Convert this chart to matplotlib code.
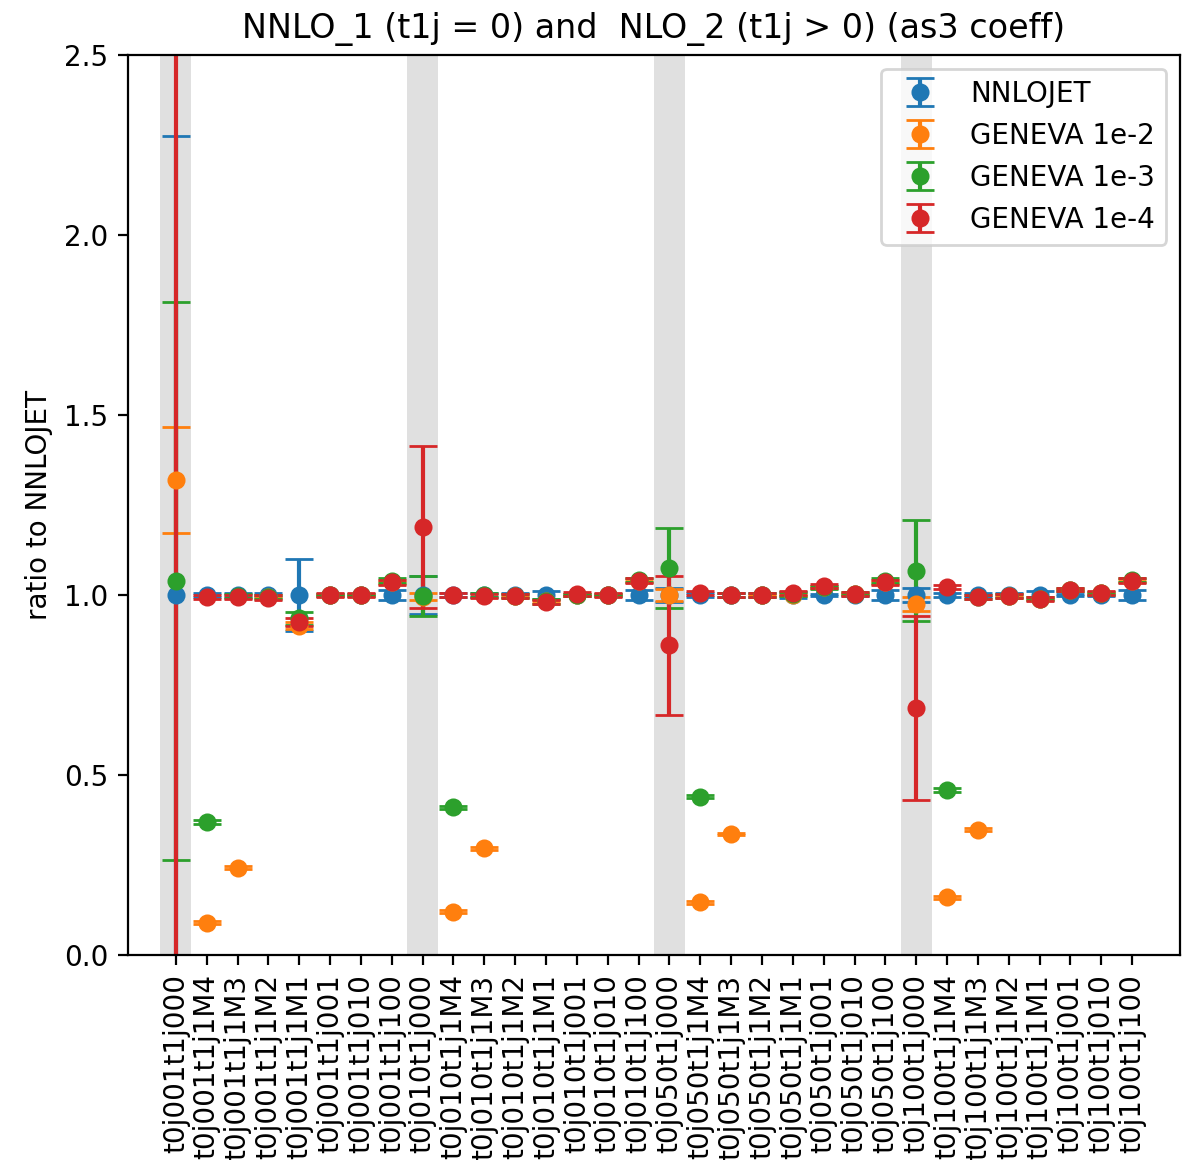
import matplotlib
matplotlib.use("Agg")
import matplotlib.pyplot as plt
import numpy as np

t0j_bins = ["001", "010", "050", "100"]
t1j_bins = ["000", "1M4", "1M3", "1M2", "1M1", "001", "010", "100"]
labels = [f"t0j{a}t1j{b}" for a in t0j_bins for b in t1j_bins]

nnlojet_val = [1.0, 1.0, 1.0, 1.0, 1.0, 1.0, 1.0, 1.0,
               1.0, 1.0, 1.0, 1.0, 1.0, 1.0, 1.0, 1.0,
               1.0, 1.0, 1.0, 1.0, 1.0, 1.0, 1.0, 1.0,
               1.0, 1.0, 1.0, 1.0, 1.0, 1.0, 1.0, 1.0]
nnlojet_err = [1.275, 0.005, 0.005, 0.005, 0.10, 0.004, 0.004, 0.015,
               0.052, 0.005, 0.005, 0.005, 0.010, 0.004, 0.004, 0.015,
               0.020, 0.005, 0.005, 0.005, 0.008, 0.004, 0.004, 0.015,
               0.020, 0.005, 0.005, 0.005, 0.010, 0.004, 0.004, 0.015]

geneva2_val = [1.32, 0.09, 0.243, 0.995, 0.915, 1.0, 1.0, 1.035,
               0.995, 0.12, 0.296, 0.998, 0.982, 1.0, 1.0, 1.04,
               1.0, 0.146, 0.336, 1.0, 1.0, 1.022, 1.003, 1.035,
               0.975, 0.16, 0.348, 0.998, 0.99, 1.015, 1.005, 1.04]
geneva2_err = [0.148, 0.004, 0.004, 0.004, 0.010, 0.003, 0.003, 0.005,
               0.010, 0.004, 0.004, 0.004, 0.005, 0.003, 0.003, 0.005,
               0.016, 0.004, 0.004, 0.004, 0.004, 0.003, 0.003, 0.005,
               0.020, 0.004, 0.004, 0.004, 0.004, 0.003, 0.003, 0.005]

geneva3_val = [1.04, 0.37, 0.998, 0.995, 0.935, 1.0, 1.0, 1.04,
               0.997, 0.41, 1.0, 0.998, 0.982, 1.0, 1.0, 1.042,
               1.075, 0.44, 1.0, 1.0, 1.003, 1.022, 1.003, 1.04,
               1.067, 0.458, 0.995, 0.998, 0.99, 1.015, 1.005, 1.042]
geneva3_err = [0.775, 0.005, 0.005, 0.005, 0.018, 0.004, 0.004, 0.006,
               0.056, 0.005, 0.005, 0.005, 0.006, 0.004, 0.004, 0.006,
               0.111, 0.005, 0.005, 0.005, 0.005, 0.004, 0.004, 0.006,
               0.140, 0.005, 0.005, 0.005, 0.005, 0.004, 0.004, 0.006]

geneva4_val = [2.8, 0.995, 0.995, 0.993, 0.925, 1.0, 1.0, 1.035,
               1.19, 1.0, 0.998, 0.998, 0.98, 1.002, 1.0, 1.04,
               0.86, 1.005, 1.0, 1.0, 1.005, 1.025, 1.003, 1.035,
               0.686, 1.022, 0.995, 0.998, 0.988, 1.015, 1.005, 1.04]
geneva4_err = [3.2, 0.006, 0.006, 0.006, 0.010, 0.005, 0.005, 0.008,
               0.225, 0.006, 0.006, 0.006, 0.006, 0.005, 0.005, 0.008,
               0.193, 0.006, 0.006, 0.006, 0.006, 0.005, 0.005, 0.008,
               0.256, 0.006, 0.006, 0.006, 0.006, 0.005, 0.005, 0.008]

series = [
    ("NNLOJET", nnlojet_val, nnlojet_err, "#1f77b4"),
    ("GENEVA 1e-2", geneva2_val, geneva2_err, "#ff7f0e"),
    ("GENEVA 1e-3", geneva3_val, geneva3_err, "#2ca02c"),
    ("GENEVA 1e-4", geneva4_val, geneva4_err, "#d62728"),
]

DPI = 200
fig = plt.figure(figsize=(1187 / DPI, 1160 / DPI), dpi=DPI)
ax = fig.add_axes([128 / 1187, 1 - 955 / 1160, (1180 - 128) / 1187, (955 - 55) / 1160])

x = np.arange(len(labels))
for i, lab in enumerate(labels):
    if lab.endswith("t1j000"):
        ax.axvspan(i - 0.5, i + 0.5, color="#e0e0e0", zorder=0, lw=0)

for name, v, e, c in series:
    ax.errorbar(x, v, yerr=e, fmt="o", color=c, capsize=5, markersize=5.5, label=name)

ax.set_ylim(0, 2.5)
ax.set_xlim(-1.55, 32.55)
ax.set_xticks(x)
ax.set_xticklabels(labels, rotation=90)
ax.set_ylabel("ratio to NNLOJET")
ax.set_title("NNLO_1 (t1j = 0) and  NLO_2 (t1j > 0) (as3 coeff)")
ax.legend(loc="upper right")

fig.savefig("out.png", dpi=DPI)
